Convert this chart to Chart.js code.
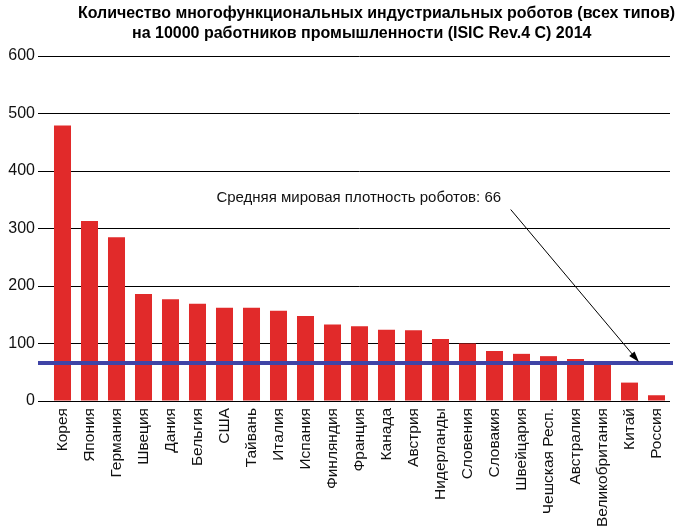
<!DOCTYPE html>
<html>
<head>
<meta charset="utf-8">
<script src="https://cdn.jsdelivr.net/npm/chart.js@4/dist/chart.umd.min.js"></script>
<style>
  html, body { margin: 0; padding: 0; background: #fff; }
  #chart { display: block; }
</style>
</head>
<body>
<canvas id="chart" width="690" height="529"></canvas>
<script>
// Data
const countries = ['Корея', 'Япония', 'Германия', 'Швеция', 'Дания', 'Бельгия', 'США', 'Тайвань',
    'Италия', 'Испания', 'Финляндия', 'Франция', 'Канада', 'Австрия', 'Нидерланды', 'Словения',
    'Словакия', 'Швейцария', 'Чешская Респ.', 'Австралия', 'Великобритания', 'Китай', 'Россия'];
const robots = [479, 313, 285, 186, 177, 169, 162, 162, 157, 148, 133, 130, 124, 123, 108, 100,
    87, 82, 78, 73, 66, 32, 10];
const worldAverage = 66;
const yTicks = [0, 100, 200, 300, 400, 500, 600];

const titleLines = [
    'Количество многофункциональных индустриальных роботов (всех типов)',
    'на 10000 работников промышленности (ISIC Rev.4 C) 2014'
];
const averageLabel = 'Средняя мировая плотность роботов: ' + worldAverage;

const FONT = '"Liberation Sans", Arial, sans-serif';

// Draws the title, the average line and the arrow note
const extrasPlugin = {
    id: 'extras',
    afterDatasetsDraw(chart) {
        const ctx = chart.ctx;
        const x = chart.scales.x;
        const y = chart.scales.y;
        const area = chart.chartArea;
        const avgY = y.getPixelForValue(worldAverage);

        // average line
        ctx.save();
        ctx.strokeStyle = '#3f44a6';
        ctx.lineWidth = 4;
        ctx.beginPath();
        ctx.moveTo(area.left - 11, avgY);
        ctx.lineTo(area.right + 3, avgY);
        ctx.stroke();

        // label
        ctx.fillStyle = '#111';
        ctx.font = '15px ' + FONT;
        ctx.textAlign = 'left';
        ctx.textBaseline = 'middle';
        ctx.fillText(averageLabel, x.getPixelForValue(5.7), y.getPixelForValue(353));

        // arrow
        const sx = x.getPixelForValue(16.6), sy = y.getPixelForValue(333);
        const ex = x.getPixelForValue(21.35), ey = avgY - 1;
        const ang = Math.atan2(ey - sy, ex - sx);
        ctx.strokeStyle = '#000';
        ctx.lineWidth = 1;
        ctx.beginPath();
        ctx.moveTo(sx, sy);
        ctx.lineTo(ex - 8 * Math.cos(ang), ey - 8 * Math.sin(ang));
        ctx.stroke();
        ctx.fillStyle = '#000';
        ctx.beginPath();
        ctx.moveTo(ex, ey);
        ctx.lineTo(ex - 11 * Math.cos(ang) + 3.5 * Math.sin(ang), ey - 11 * Math.sin(ang) - 3.5 * Math.cos(ang));
        ctx.lineTo(ex - 11 * Math.cos(ang) - 3.5 * Math.sin(ang), ey - 11 * Math.sin(ang) + 3.5 * Math.cos(ang));
        ctx.closePath();
        ctx.fill();

        // title
        ctx.fillStyle = '#000';
        ctx.font = 'bold 16px ' + FONT;
        ctx.textBaseline = 'alphabetic';
        ctx.fillText(titleLines[0], 78, 18, 597);
        ctx.fillText(titleLines[1], 132, 38, 463);
        ctx.restore();
    }
};

const ctx = document.getElementById('chart').getContext('2d');
const chart = new Chart(ctx, {
    type: 'bar',
    data: {
        labels: countries,
        datasets: [{
            label: 'Роботы',
            data: robots,
            backgroundColor: '#e12a2a',
            borderWidth: 0,
            barPercentage: 0.63,
            categoryPercentage: 1
        }]
    },
    options: {
        responsive: false,
        animation: false,
        devicePixelRatio: 1,
        layout: {
            padding: { top: 56, right: 20, left: 0, bottom: 0 }
        },
        plugins: {
            legend: { display: false },
            title: { display: false },
            tooltip: { enabled: false }
        },
        scales: {
            x: {
                grid: { display: false, drawTicks: false },
                border: { display: false },
                ticks: {
                    autoSkip: false,
                    minRotation: 90,
                    maxRotation: 90,
                    padding: 7,
                    color: '#111',
                    font: { family: FONT, size: 15.5 }
                },
                afterFit: scale => { scale.height = 128; }
            },
            y: {
                min: 0,
                max: 600,
                afterBuildTicks: scale => {
                    scale.ticks = yTicks.map(v => ({ value: v }));
                },
                grid: { color: '#000', lineWidth: 1, tickLength: 11 },
                border: { display: false },
                ticks: {
                    padding: 3,
                    color: '#111',
                    font: { family: FONT, size: 16 }
                },
                afterFit: scale => { scale.width = 49; }
            }
        }
    },
    plugins: [extrasPlugin]
});
</script>
</body>
</html>
